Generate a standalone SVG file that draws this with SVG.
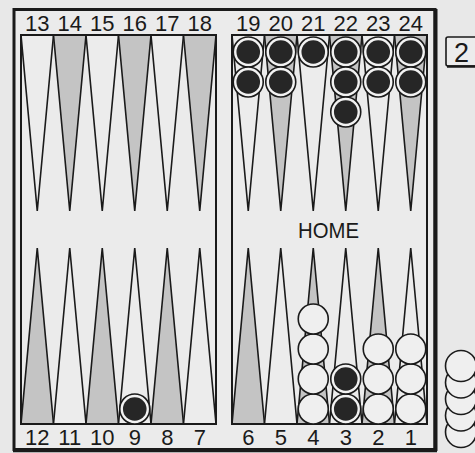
<svg xmlns="http://www.w3.org/2000/svg" width="475" height="453" viewBox="0 0 475 453">
<style>
.tw{fill:#ececec;stroke:#1a1a1a;stroke-width:1.6;stroke-linejoin:miter}
.tg{fill:#c4c4c4;stroke:#1a1a1a;stroke-width:1.6;stroke-linejoin:miter}
.num{font-family:"Liberation Sans Narrow","Liberation Sans",Arial,sans-serif;font-size:22px;fill:#1a1a1a;text-anchor:middle}
.panel{fill:none;stroke:#1a1a1a;stroke-width:2}
.wc{fill:#efefef;stroke:#1a1a1a;stroke-width:1.6}
.bo{fill:#f2f2f2;stroke:#1a1a1a;stroke-width:1.6}
.bi{fill:#262626}
</style>
<defs>
<g id="black"><circle r="15" class="bo"/><circle r="11.8" class="bi"/></g>
<circle id="white" r="15" class="wc"/>
</defs>
<rect width="475" height="453" fill="#e8e8e8"/>
<g id="frame">
<rect x="14" y="9.5" width="421" height="440" fill="#ebebeb" stroke="#1a1a1a" stroke-width="3"/>
<line x1="435.5" y1="9" x2="435.5" y2="451" stroke="#1a1a1a" stroke-width="4"/>
<line x1="13" y1="450.5" x2="437" y2="450.5" stroke="#1a1a1a" stroke-width="3.5"/>
</g>
<g id="points">
<polygon class="tw" points="21,35 53.5,35 37.25,211"/>
<polygon class="tg" points="53.5,35 86,35 69.75,211"/>
<polygon class="tw" points="86,35 118.5,35 102.25,211"/>
<polygon class="tg" points="118.5,35 151,35 134.75,211"/>
<polygon class="tw" points="151,35 183.5,35 167.25,211"/>
<polygon class="tg" points="183.5,35 216,35 199.75,211"/>
<polygon class="tw" points="232,35 264.5,35 248.25,211"/>
<polygon class="tg" points="264.5,35 297,35 280.75,211"/>
<polygon class="tw" points="297,35 329.5,35 313.25,211"/>
<polygon class="tg" points="329.5,35 362,35 345.75,211"/>
<polygon class="tw" points="362,35 394.5,35 378.25,211"/>
<polygon class="tg" points="394.5,35 427,35 410.75,211"/>
<polygon class="tg" points="21,424 53.5,424 37.25,248"/>
<polygon class="tw" points="53.5,424 86,424 69.75,248"/>
<polygon class="tg" points="86,424 118.5,424 102.25,248"/>
<polygon class="tw" points="118.5,424 151,424 134.75,248"/>
<polygon class="tg" points="151,424 183.5,424 167.25,248"/>
<polygon class="tw" points="183.5,424 216,424 199.75,248"/>
<polygon class="tg" points="232,424 264.5,424 248.25,248"/>
<polygon class="tw" points="264.5,424 297,424 280.75,248"/>
<polygon class="tg" points="297,424 329.5,424 313.25,248"/>
<polygon class="tw" points="329.5,424 362,424 345.75,248"/>
<polygon class="tg" points="362,424 394.5,424 378.25,248"/>
<polygon class="tw" points="394.5,424 427,424 410.75,248"/>
</g>
<g id="panels">
<rect class="panel" x="21" y="35" width="195" height="389"/>
<rect class="panel" x="232" y="35" width="195" height="389"/>
</g>
<g id="labels-top" class="num">
<text x="37.25" y="30.5">13</text>
<text x="69.75" y="30.5">14</text>
<text x="102.25" y="30.5">15</text>
<text x="134.75" y="30.5">16</text>
<text x="167.25" y="30.5">17</text>
<text x="199.75" y="30.5">18</text>
<text x="248.25" y="30.5">19</text>
<text x="280.75" y="30.5">20</text>
<text x="313.25" y="30.5">21</text>
<text x="345.75" y="30.5">22</text>
<text x="378.25" y="30.5">23</text>
<text x="410.75" y="30.5">24</text>
</g>
<g id="labels-bottom" class="num">
<text x="37.25" y="444.5">12</text>
<text x="69.75" y="444.5">11</text>
<text x="102.25" y="444.5">10</text>
<text x="134.75" y="444.5">9</text>
<text x="167.25" y="444.5">8</text>
<text x="199.75" y="444.5">7</text>
<text x="248.25" y="444.5">6</text>
<text x="280.75" y="444.5">5</text>
<text x="313.25" y="444.5">4</text>
<text x="345.75" y="444.5">3</text>
<text x="378.25" y="444.5">2</text>
<text x="410.75" y="444.5">1</text>
</g>
<text id="home" x="328.5" y="238" font-family="'Liberation Sans',Arial,sans-serif" font-size="21.5" fill="#1a1a1a" text-anchor="middle" textLength="61" lengthAdjust="spacingAndGlyphs">HOME</text>
<g id="checkers-black">
<use href="#black" x="248.25" y="52"/><use href="#black" x="248.25" y="82"/>
<use href="#black" x="280.75" y="52"/><use href="#black" x="280.75" y="82"/>
<use href="#black" x="313.25" y="52"/>
<use href="#black" x="345.75" y="52"/><use href="#black" x="345.75" y="82"/><use href="#black" x="345.75" y="112"/>
<use href="#black" x="378.25" y="52"/><use href="#black" x="378.25" y="82"/>
<use href="#black" x="410.75" y="52"/><use href="#black" x="410.75" y="82"/>
<use href="#black" x="134.75" y="409"/>
<use href="#black" x="345.75" y="409"/><use href="#black" x="345.75" y="379"/>
</g>
<g id="checkers-white">
<use href="#white" x="313.25" y="409"/><use href="#white" x="313.25" y="379"/><use href="#white" x="313.25" y="349"/><use href="#white" x="313.25" y="319"/>
<use href="#white" x="378.25" y="409"/><use href="#white" x="378.25" y="379"/><use href="#white" x="378.25" y="349"/>
<use href="#white" x="410.75" y="409"/><use href="#white" x="410.75" y="379"/><use href="#white" x="410.75" y="349"/>
</g>
<g id="borne-off">
<circle class="wc" cx="461" cy="432" r="15.5"/>
<circle class="wc" cx="461" cy="415.5" r="15.5"/>
<circle class="wc" cx="461" cy="399" r="15.5"/>
<circle class="wc" cx="461" cy="382.5" r="15.5"/>
<circle class="wc" cx="461" cy="366" r="15.5"/>
</g>
<g id="cube">
<rect x="446" y="37" width="33" height="29" rx="2" fill="#ececec" stroke="#1a1a1a" stroke-width="1.6"/>
<line x1="447" y1="66.5" x2="476" y2="66.5" stroke="#1a1a1a" stroke-width="2.5"/>
<text x="461.5" y="62" font-family="'Liberation Sans',Arial,sans-serif" font-size="27" fill="#1a1a1a" text-anchor="middle">2</text>
</g>
</svg>
